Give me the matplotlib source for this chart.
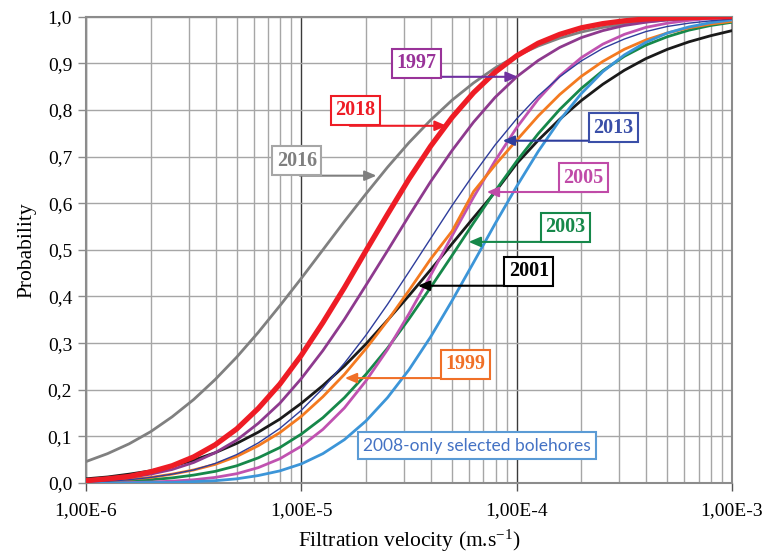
import numpy as np
import matplotlib
matplotlib.use("Agg")
import matplotlib.pyplot as plt
from matplotlib.ticker import LogLocator, FixedLocator, NullFormatter

plt.rcParams['font.family'] = ['Liberation Serif', 'DejaVu Serif']
plt.rcParams['mathtext.default'] = 'regular'

# filtration velocity, log10 (m/s)
log_v = [-6.0, -5.9, -5.8, -5.7, -5.6, -5.5, -5.4, -5.3, -5.2, -5.1,
         -5.0, -4.9, -4.8, -4.7, -4.6, -4.5, -4.4, -4.3, -4.2, -4.1,
         -4.0, -3.9, -3.8, -3.7, -3.6, -3.5, -3.4, -3.3, -3.2, -3.1, -3.0]

# cumulative probability for each campaign
p_2016 = [0.046, 0.063, 0.084, 0.110, 0.142, 0.179, 0.222, 0.270, 0.323, 0.380,
          0.439, 0.500, 0.561, 0.620, 0.677, 0.730, 0.778, 0.821, 0.858, 0.890,
          0.916, 0.937, 0.954, 0.967, 0.977, 0.984, 0.989, 0.993, 0.995, 0.997, 0.998]
p_2018 = [0.005, 0.009, 0.014, 0.024, 0.037, 0.056, 0.082, 0.116, 0.160, 0.212,
          0.274, 0.344, 0.419, 0.498, 0.576, 0.652, 0.722, 0.784, 0.837, 0.881,
          0.916, 0.943, 0.962, 0.976, 0.985, 0.991, 0.995, 0.997, 0.998, 0.999, 1.000]
p_1997 = [0.004, 0.007, 0.012, 0.019, 0.029, 0.044, 0.065, 0.092, 0.128, 0.171,
          0.224, 0.284, 0.351, 0.424, 0.498, 0.573, 0.646, 0.713, 0.774, 0.827,
          0.871, 0.906, 0.934, 0.955, 0.970, 0.981, 0.988, 0.993, 0.996, 0.998, 0.999]
p_2013 = [0.003, 0.004, 0.007, 0.012, 0.019, 0.028, 0.042, 0.061, 0.086, 0.117,
          0.156, 0.203, 0.257, 0.317, 0.383, 0.453, 0.524, 0.595, 0.662, 0.725,
          0.781, 0.830, 0.871, 0.905, 0.932, 0.952, 0.968, 0.979, 0.986, 0.991, 0.995]
p_2001 = [0.009, 0.013, 0.019, 0.026, 0.036, 0.049, 0.065, 0.085, 0.109, 0.137,
          0.171, 0.209, 0.251, 0.298, 0.349, 0.402, 0.457, 0.513, 0.569, 0.624,
          0.685, 0.735, 0.780, 0.820, 0.855, 0.885, 0.910, 0.930, 0.946, 0.959, 0.970]
p_1999 = [0.003, 0.005, 0.008, 0.012, 0.019, 0.028, 0.040, 0.057, 0.080, 0.108,
          0.143, 0.185, 0.233, 0.288, 0.348, 0.413, 0.480, 0.540, 0.625, 0.682,
          0.735, 0.787, 0.833, 0.872, 0.904, 0.930, 0.950, 0.965, 0.976, 0.984, 0.990]
p_2005 = [0.000, 0.000, 0.001, 0.002, 0.004, 0.007, 0.012, 0.020, 0.033, 0.052,
          0.079, 0.115, 0.161, 0.219, 0.286, 0.363, 0.445, 0.530, 0.613, 0.691,
          0.762, 0.823, 0.873, 0.912, 0.941, 0.962, 0.977, 0.986, 0.992, 0.996, 0.998]
p_2003 = [0.001, 0.002, 0.004, 0.007, 0.011, 0.017, 0.025, 0.037, 0.054, 0.076,
          0.105, 0.140, 0.183, 0.233, 0.289, 0.352, 0.419, 0.488, 0.558, 0.626,
          0.690, 0.749, 0.801, 0.846, 0.884, 0.915, 0.939, 0.957, 0.971, 0.981, 0.988]
p_2008 = [0.000, 0.000, 0.000, 0.001, 0.001, 0.003, 0.005, 0.009, 0.016, 0.026,
          0.041, 0.063, 0.093, 0.133, 0.183, 0.243, 0.313, 0.391, 0.473, 0.556,
          0.636, 0.711, 0.778, 0.835, 0.882, 0.918, 0.945, 0.965, 0.978, 0.987, 0.993]

x_ticks = [1e-6, 1e-5, 1e-4, 1e-3]
x_ticklabels = ["1,00E-6", "1,00E-5", "1,00E-4", "1,00E-3"]
y_ticks = [0.0, 0.1, 0.2, 0.3, 0.4, 0.5, 0.6, 0.7, 0.8, 0.9, 1.0]

v = 10.0 ** np.array(log_v)

fig = plt.figure(figsize=(7.66, 5.55), dpi=100)
ax = fig.add_axes([0.1123, 0.1297, 0.8433, 0.8403])

# curves: (values, colour, width)
curves = [
    (p_2016, "#808080", 2.0),
    (p_2001, "#1a1a1a", 2.0),
    (p_2003, "#16884a", 2.0),
    (p_2005, "#c052b0", 2.0),
    (p_1999, "#f47a20", 2.0),
    (p_2008, "#3c95d8", 2.0),
    (p_2013, "#2e3d9c", 1.0),
    (p_1997, "#8e3a8e", 2.0),
    (p_2018, "#ee1c25", 3.8),
]
for p, c, lw in curves:
    ax.plot(v, p, color=c, lw=lw, solid_capstyle="round", zorder=3)

ax.set_xscale("log")
ax.set_xlim(1e-6, 1e-3)
ax.set_ylim(0, 1)
ax.xaxis.set_major_locator(FixedLocator(x_ticks))
ax.set_xticklabels(x_ticklabels)
ax.xaxis.set_minor_locator(LogLocator(base=10, subs=np.arange(2, 10)))
ax.xaxis.set_minor_formatter(NullFormatter())
ax.set_yticks(y_ticks)
ax.set_yticklabels(["%.1f" % t for t in y_ticks])
ax.set_yticklabels([l.get_text().replace(".", ",") for l in ax.get_yticklabels()])

ax.set_axisbelow(True)
ax.grid(which="major", axis="x", color="#3a3a3a", lw=1.0)
ax.grid(which="minor", axis="x", color="#a6a6a6", lw=1.0)
ax.grid(which="major", axis="y", color="#a6a6a6", lw=1.0)
for s in ax.spines.values():
    s.set_color("#8c8c8c")
    s.set_linewidth(1.5)
ax.tick_params(axis="x", which="major", length=6, width=1.0, color="#555555",
               labelsize=14, pad=8)
ax.tick_params(axis="x", which="minor", length=0)
ax.tick_params(axis="y", length=6, width=1.0, color="#8c8c8c", labelsize=14, pad=4)

ax.set_xlabel("Filtration velocity (m.s$^{-1}$)", fontsize=15.5, labelpad=6)
ax.set_ylabel("Probability", fontsize=15.5, labelpad=8)

# labels with arrows: text, log10 text x, text y, arrow start / tip (log10 x), arrow y, text colour, edge, arrow colour
labels = [
    ("1997", -4.466, 0.900, -4.45, -3.995, 0.871, "#993399", "#993399", "#7030a0"),
    ("2018", -4.749, 0.799, -4.775, -4.325, 0.766, "#ee1c25", "#ee1c25", "#ee1c25"),
    ("2016", -5.021, 0.691, -5.007, -4.651, 0.659, "#7f7f7f", "#a6a6a6", "#7f7f7f"),
    ("2013", -3.550, 0.762, -3.555, -4.065, 0.734, "#3a4fa8", "#3a4fa8", "#2e3d9c"),
    ("2005", -3.691, 0.655, -3.629, -4.139, 0.624, "#c04ba8", "#c04ba8", "#c04ba8"),
    ("2003", -3.773, 0.548, -3.685, -4.223, 0.517, "#16884a", "#16884a", "#16884a"),
    ("2001", -3.944, 0.454, -3.963, -4.459, 0.423, "#000000", "#000000", "#000000"),
    ("1999", -4.237, 0.255, -4.278, -4.798, 0.225, "#f07028", "#f07028", "#f07028"),
]
for txt, lx, ty, ls, lt, ay, tc, ec, ac in labels:
    ax.annotate("", xy=(10 ** lt, ay), xytext=(10 ** ls, ay),
                arrowprops=dict(arrowstyle="-|>,head_length=0.7,head_width=0.3",
                                color=ac, lw=1.5, shrinkA=0, shrinkB=0), zorder=4)
    ax.text(10 ** lx, ty, txt, color=tc, fontsize=14.5, fontweight="bold",
            ha="center", va="center", zorder=5,
            bbox=dict(boxstyle="square,pad=0.22", fc="white", ec=ec, lw=1.5))

ax.text(10 ** -4.186, 0.080, "2008-only selected bolehores", color="#4472c4",
        fontsize=12.5, family="Lato", ha="center", va="center", zorder=5,
        bbox=dict(boxstyle="square,pad=0.3", fc="white", ec="#5b9bd5", lw=1.5))

fig.savefig("out.png", dpi=100)
